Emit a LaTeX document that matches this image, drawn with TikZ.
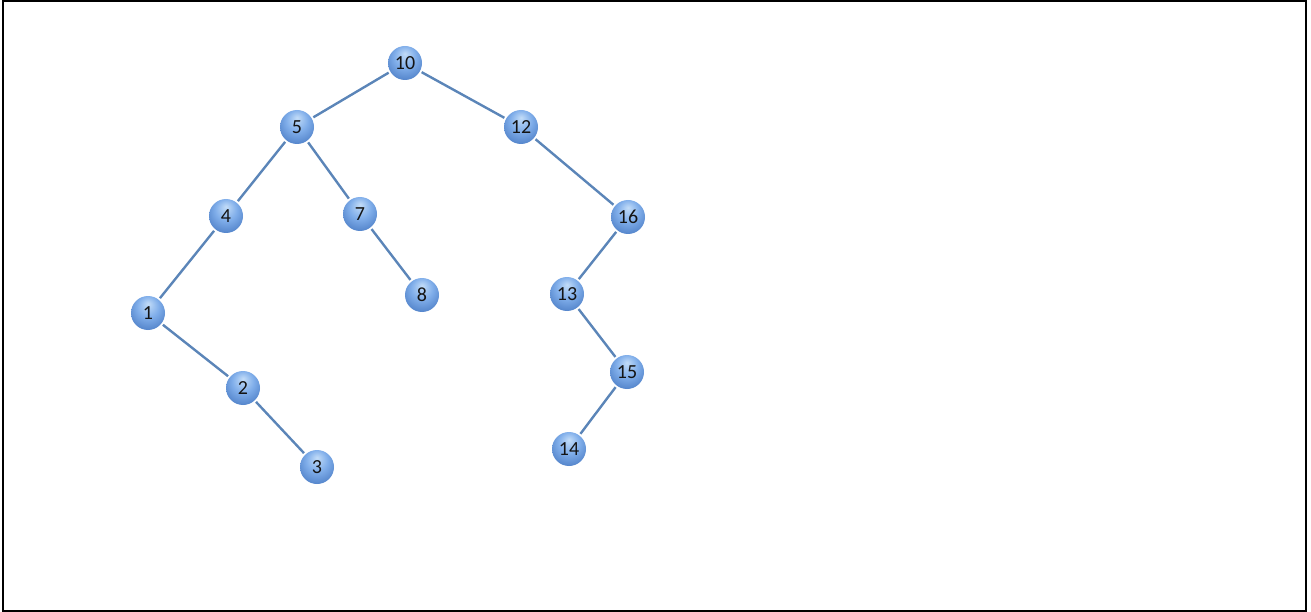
\documentclass[tikz,border=0pt]{standalone}
\usepackage{fontspec}
\setmainfont{Carlito}
\definecolor{ballhi}{HTML}{C2DCF8}
\definecolor{ballmid}{HTML}{80AEEA}
\definecolor{balledge}{HTML}{5081C8}
\definecolor{edgecol}{HTML}{5B85B8}
\definecolor{txt}{HTML}{141414}
\pgfdeclareradialshading{nodeball}{\pgfpoint{0bp}{14bp}}{color(0bp)=(ballhi); color(16bp)=(ballmid); color(32bp)=(balledge); color(50bp)=(balledge)}
\begin{document}
\begin{tikzpicture}[x=1pt,y=-1pt,
  tnode/.style={circle, minimum size=34pt, inner sep=0pt, shading=nodeball, text=txt, font=\fontsize{20}{20}\selectfont, outer sep=2pt},
  tedge/.style={draw=edgecol, line width=2.4pt}]
\useasboundingbox (0,0) rectangle (1311,612);
\draw[line width=2pt, black] (3,1.5) rectangle (1306,610.5);
\node[tnode] (n10) at (405,63) {10};
\node[tnode] (n5) at (297,127) {5};
\node[tnode] (n12) at (521,127) {12};
\node[tnode] (n4) at (226,216) {4};
\node[tnode] (n7) at (360,214) {7};
\node[tnode] (n16) at (628,217) {16};
\node[tnode] (n8) at (422,295) {8};
\node[tnode] (n13) at (567,294) {13};
\node[tnode] (n1) at (148,313) {1};
\node[tnode] (n2) at (243,388) {2};
\node[tnode] (n15) at (627,372) {15};
\node[tnode] (n14) at (569,449) {14};
\node[tnode] (n3) at (317,467) {3};
\path[tedge] (n10) -- (n5);
\path[tedge] (n10) -- (n12);
\path[tedge] (n5) -- (n4);
\path[tedge] (n5) -- (n7);
\path[tedge] (n12) -- (n16);
\path[tedge] (n4) -- (n1);
\path[tedge] (n7) -- (n8);
\path[tedge] (n16) -- (n13);
\path[tedge] (n1) -- (n2);
\path[tedge] (n13) -- (n15);
\path[tedge] (n15) -- (n14);
\path[tedge] (n2) -- (n3);
\end{tikzpicture}
\end{document}
